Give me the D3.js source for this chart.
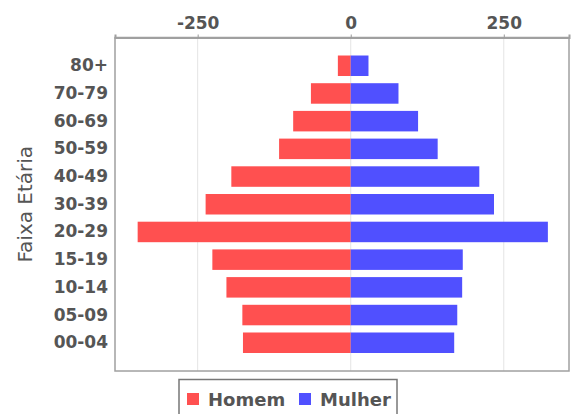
<!DOCTYPE html>
<html>
<head>
<meta charset="utf-8">
<script src="https://cdn.jsdelivr.net/npm/d3@7"></script>
<style>
  html, body { margin: 0; padding: 0; background: #fff; }
  svg { display: block; font-family: "DejaVu Sans", sans-serif; }
</style>
</head>
<body>
<svg id="chart" width="571" height="414"></svg>
<script>
const categories = ["80+", "70-79", "60-69", "50-59", "40-49", "30-39", "20-29", "15-19", "10-14", "05-09", "00-04"];
const homem = [-21, -65, -94, -117, -195, -237, -348, -226, -203, -177, -176];
const mulher = [29, 78, 110, 142, 210, 234, 322, 183, 182, 174, 169];
const tickValues = [-250, 0, 250];
const seriesNames = ["Homem", "Mulher"];
const seriesColors = ["#ff5050", "#5050ff"];
const xDomain = [-385, 356.5];
const axisTitle = "Faixa Etária";

const svg = d3.select("#chart");
const plot = { left: 115, right: 569, top: 37.5, bottom: 371 };

const x = d3.scaleLinear().domain(xDomain).range([plot.left, plot.right]);
const y = d3.scaleBand().domain(categories).range([plot.top, plot.bottom])
  .paddingInner(0.26).paddingOuter(0.65);

// background
svg.append("rect").attr("x", plot.left).attr("y", plot.top)
  .attr("width", plot.right - plot.left).attr("height", plot.bottom - plot.top)
  .attr("fill", "#fff");

// gridlines
svg.append("g").selectAll("line").data(tickValues).join("line")
  .attr("x1", d => x(d)).attr("x2", d => x(d))
  .attr("y1", plot.top).attr("y2", plot.bottom)
  .attr("stroke", "#e4e4e4").attr("stroke-width", 1);

// bars
const rows = categories.map((c, i) => ({ c, h: homem[i], m: mulher[i] }));
svg.append("g").selectAll("rect").data(rows).join("rect")
  .attr("x", d => x(Math.min(0, d.h))).attr("y", d => y(d.c))
  .attr("width", d => Math.abs(x(d.h) - x(0))).attr("height", y.bandwidth())
  .attr("fill", seriesColors[0]);
svg.append("g").selectAll("rect").data(rows).join("rect")
  .attr("x", d => x(0)).attr("y", d => y(d.c))
  .attr("width", d => x(d.m) - x(0)).attr("height", y.bandwidth())
  .attr("fill", seriesColors[1]);

// frame
svg.append("rect").attr("x", plot.left).attr("y", plot.top)
  .attr("width", plot.right - plot.left).attr("height", plot.bottom - plot.top)
  .attr("fill", "none").attr("stroke", "#a0a0a0").attr("stroke-width", 1.5);

// top axis
const xAxis = d3.axisTop(x).tickValues(tickValues).tickSize(3).tickPadding(6)
  .tickFormat(d => String(d));
const gx = svg.append("g").attr("transform", `translate(0,${plot.top})`).call(xAxis);
gx.select(".domain").attr("stroke", "#a0a0a0").attr("stroke-width", 2);
gx.selectAll(".tick line").attr("stroke", "#999");
gx.selectAll(".tick text").attr("fill", "#555").style("font-size", "17px")
  .style("font-weight", "bold").style("font-family", "DejaVu Sans, sans-serif");

// left axis
const yAxis = d3.axisLeft(y).tickSize(0).tickPadding(7);
const gy = svg.append("g").attr("transform", `translate(${plot.left},0)`).call(yAxis);
gy.select(".domain").remove();
gy.selectAll(".tick text").attr("fill", "#555").style("font-size", "17px")
  .style("font-weight", "bold").style("font-family", "DejaVu Sans, sans-serif");

// axis title
svg.append("text").attr("transform", `translate(32,${(plot.top + plot.bottom) / 2}) rotate(-90)`)
  .attr("text-anchor", "middle").attr("fill", "#555")
  .style("font-size", "20px").text(axisTitle);

// legend
const lg = svg.append("g");
lg.append("rect").attr("x", 179).attr("y", 379.5).attr("width", 218).attr("height", 40)
  .attr("fill", "#fff").attr("stroke", "#777").attr("stroke-width", 1.5);
const legendX = [187, 299];
seriesNames.forEach((n, i) => {
  lg.append("rect").attr("x", legendX[i]).attr("y", 393).attr("width", 12).attr("height", 12)
    .attr("fill", seriesColors[i]);
  lg.append("text").attr("x", legendX[i] + 21).attr("y", 406)
    .attr("fill", "#555").style("font-size", "18px").style("font-weight", "bold").text(n);
});
</script>
</body>
</html>
